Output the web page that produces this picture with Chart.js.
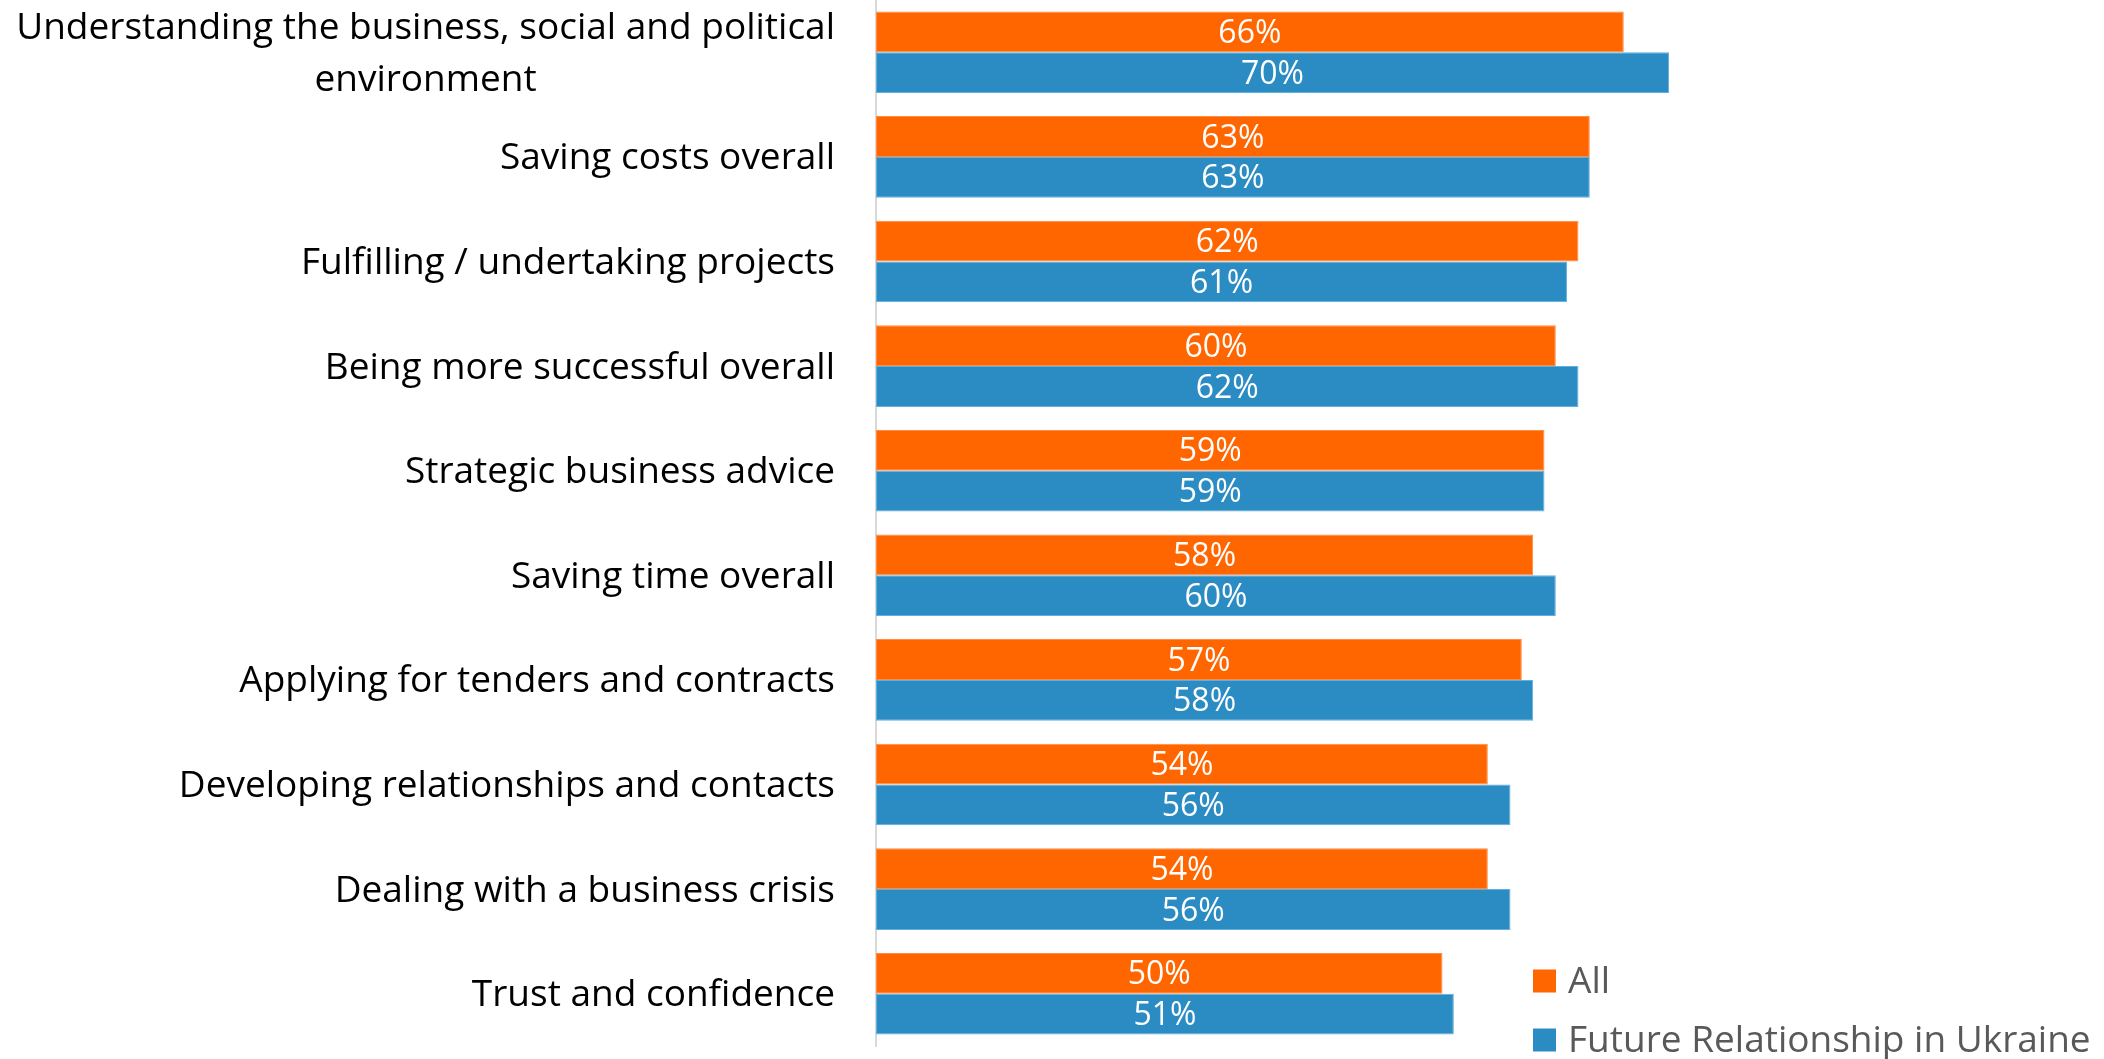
<!DOCTYPE html>
<html>
<head>
<meta charset="utf-8">
<script src="https://cdn.jsdelivr.net/npm/chart.js@4.4.1/dist/chart.umd.min.js"></script>
<style>
  html, body { margin: 0; padding: 0; background: #ffffff; }
  #wrap { width: 2104px; height: 1059px; }
</style>
</head>
<body>
<div id="wrap"><canvas id="c" width="2104" height="1059"></canvas></div>
<script>
const categories = [
  ["Understanding the business, social and political", "environment"],
  "Saving costs overall",
  "Fulfilling / undertaking projects",
  "Being more successful overall",
  "Strategic business advice",
  "Saving time overall",
  "Applying for tenders and contracts",
  "Developing relationships and contacts",
  "Dealing with a business crisis",
  "Trust and confidence"
];
const seriesNames = ["All", "Future Relationship in Ukraine"];
const allValues = [66, 63, 62, 60, 59, 58, 57, 54, 54, 50];
const ukraineValues = [70, 63, 61, 62, 59, 60, 58, 56, 56, 51];

const FONT = '"Open Sans", sans-serif';
const AXIS_LEFT = 876;

// Category labels: right-aligned blocks, with each wrapped line centred in its block
const categoryLabels = {
  id: 'categoryLabels',
  afterDraw(chart) {
    const ctx = chart.ctx;
    const y = chart.scales.y;
    const size = 37, lineH = 52, rightEdge = AXIS_LEFT - 41;
    ctx.save();
    ctx.font = size + 'px ' + FONT;
    ctx.fillStyle = '#000000';
    ctx.textAlign = 'center';
    ctx.textBaseline = 'middle';
    chart.data.labels.forEach((lab, i) => {
      const lines = Array.isArray(lab) ? lab : [lab];
      const widest = Math.max(...lines.map(l => ctx.measureText(l).width));
      const cx = rightEdge - widest / 2;
      const cy = y.getPixelForValue(i) + 2;
      const top = cy - (lines.length - 1) * lineH / 2;
      lines.forEach((l, k) => ctx.fillText(l, cx, top + k * lineH));
    });
    ctx.restore();
  }
};

// Value labels centred inside each bar
const barValues = {
  id: 'barValues',
  afterDatasetsDraw(chart) {
    const ctx = chart.ctx;
    ctx.save();
    ctx.font = '32px ' + FONT;
    ctx.fillStyle = '#ffffff';
    ctx.textAlign = 'center';
    ctx.textBaseline = 'middle';
    chart.data.datasets.forEach((ds, di) => {
      chart.getDatasetMeta(di).data.forEach((bar, i) => {
        ctx.fillText(ds.data[i] + '%', (bar.x + bar.base) / 2, bar.y + 2);
      });
    });
    ctx.restore();
  }
};

// Legend placed in the lower right corner
const cornerLegend = {
  id: 'cornerLegend',
  afterDraw(chart) {
    const ctx = chart.ctx;
    const rows = [981, 1040];
    ctx.save();
    ctx.font = '37px ' + FONT;
    ctx.textAlign = 'left';
    ctx.textBaseline = 'middle';
    chart.data.datasets.forEach((ds, i) => {
      ctx.fillStyle = ds.backgroundColor;
      ctx.fillRect(1533, rows[i] - 11.5, 23, 23);
      ctx.fillStyle = '#595959';
      ctx.fillText(ds.label, 1568, rows[i] + 1);
    });
    ctx.restore();
  }
};

new Chart(document.getElementById('c'), {
  type: 'bar',
  data: {
    labels: categories,
    datasets: [
      { label: seriesNames[0], data: allValues, backgroundColor: '#FF6600', borderColor: '#FF8B45', borderWidth: 1, borderSkipped: false },
      { label: seriesNames[1], data: ukraineValues, backgroundColor: '#2B8CC4', borderColor: '#62AEDD', borderWidth: 1, borderSkipped: false }
    ]
  },
  options: {
    indexAxis: 'y',
    responsive: false,
    animation: false,
    devicePixelRatio: 1,
    layout: { padding: { left: 0, right: 95, top: 0, bottom: 13 } },
    datasets: { bar: { categoryPercentage: 0.78, barPercentage: 1.0 } },
    scales: {
      x: { display: false, min: 0, max: 100 },
      y: {
        grid: { display: false },
        border: { display: true, color: '#D9D9D9', width: 2 },
        ticks: { display: false },
        afterFit(scale) { scale.width = AXIS_LEFT; }
      }
    },
    plugins: { legend: { display: false }, tooltip: { enabled: false } }
  },
  plugins: [categoryLabels, barValues, cornerLegend]
});
</script>
</body>
</html>
